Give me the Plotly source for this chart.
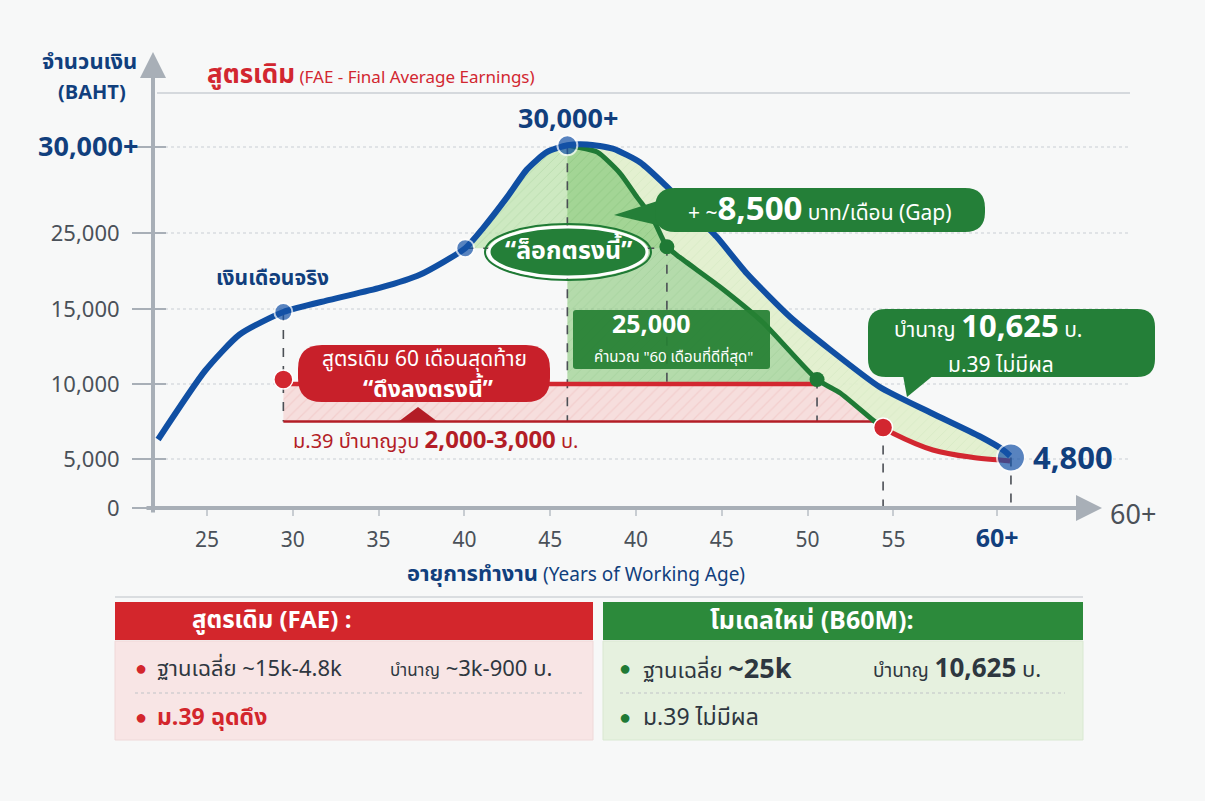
import numpy as np
import plotly.graph_objects as go

# ---------------- data ----------------
x_tick_pos = [0, 1, 2, 3, 4, 5, 6, 7, 8, 9.21]
x_tick_labels = ["25", "30", "35", "40", "45", "40", "45", "50", "55", "60+"]

y_tick_baht = [0, 5000, 10000, 15000, 25000, 30000]
y_tick_labels = ["0", "5,000", "10,000", "15,000", "25,000", "30,000+"]
y_tick_axis = [0, 49, 124, 199, 275, 361]  # the chart's non-linear money scale

# actual salary (blue)
salary_x = [-0.57, -0.02, 0.38, 0.89, 1.43, 2.02, 2.48, 3.01, 3.22, 3.50, 3.73, 3.96, 4.20,
            4.43, 4.73, 5.05, 5.36, 5.66, 5.94, 6.29, 6.79, 7.26, 7.84, 8.43, 9.01, 9.28, 9.36]
salary_y = [6300, 10900, 13300, 14800, 16200, 17800, 19500, 23000, 25300, 27100, 28700, 29700, 30100,
            30150, 29900, 29100, 27700, 26200, 24500, 19700, 14500, 12300, 9800, 8100, 6500, 5600, 5200]
salary_pts_x = [0.89, 3.01, 4.20, 9.37]
salary_pts_y = [14800, 23000, 30100, 5100]

# new model B60M (green)
b60m_x = [4.20, 4.31, 4.55, 4.81, 5.01, 5.20, 5.36, 5.51, 5.98, 6.48, 7.11, 7.38, 7.76, 7.88]
b60m_y = [30100, 30000, 29700, 28500, 27100, 25800, 23200, 21800, 17900, 14100, 10300, 9400, 7600, 7100]
b60m_pts_x = [5.36, 7.11]
b60m_pts_y = [23200, 10300]
lock_level = 23000

# old formula FAE (red)
fae_level = 10000
fae_floor = 7500
fae_x_start, fae_x_top_end, fae_x_floor_end = 0.89, 7.11, 7.80
fae_tail_x = [7.88, 8.00, 8.46, 8.93, 9.24, 9.36]
fae_tail_y = [7100, 6700, 5600, 5100, 4900, 4800]
fae_pts_x = [0.89, 7.88]
fae_pts_y = [10300, 7100]


def yax(v):
    v = np.asarray(v, dtype=float)
    slope = (y_tick_axis[-1] - y_tick_axis[-2]) / (y_tick_baht[-1] - y_tick_baht[-2])
    out = np.interp(v, y_tick_baht, y_tick_axis)
    hi = v > y_tick_baht[-1]
    out[hi] = y_tick_axis[-1] + (v[hi] - y_tick_baht[-1]) * slope
    return out


# ---------------- styling ----------------
FONT = "Noto Sans Thai, Noto Sans, Open Sans, sans-serif"
BLUE = "#104FA3"
NAVY = "#113F7D"
RED = "#D22730"
DRED = "#B31D26"
GREEN = "#1F7A35"
GBOX = "#247F38"
GRAY = "#A8AFB7"
TXT = "#4A5159"
BG = "#F7F8F8"

PL, PT, PW, PH = 153, 55, 947, 453
XR = [(153 - 207) / 85.8, (1100 - 207) / 85.8]


def fx(px):
    return (px - PL) / PW


def fy(py):
    return (PT + PH - py) / PH


def pt(px, py):
    return f"{fx(px):.5f},{fy(py):.5f}"


def rpath(x0, y0, x1, y1, r):
    return (f"M {pt(x0 + r, y0)} L {pt(x1 - r, y0)} Q {pt(x1, y0)} {pt(x1, y0 + r)} "
            f"L {pt(x1, y1 - r)} Q {pt(x1, y1)} {pt(x1 - r, y1)} L {pt(x0 + r, y1)} "
            f"Q {pt(x0, y1)} {pt(x0, y1 - r)} L {pt(x0, y0 + r)} Q {pt(x0, y0)} {pt(x0 + r, y0)} Z")


def polypath(points):
    return "M " + " L ".join(pt(a, b) for a, b in points) + " Z"


def shape_path(path, fill, line_color=None, line_width=0, layer="above"):
    return dict(type="path", path=path, xref="paper", yref="paper", fillcolor=fill,
                line=dict(color=line_color or fill, width=line_width), layer=layer)


def shape_rect(x0, y0, x1, y1, fill, line_color=None, line_width=0, layer="above"):
    return dict(type="rect", x0=fx(x0), x1=fx(x1), y0=fy(y0), y1=fy(y1), xref="paper", yref="paper",
                fillcolor=fill, line=dict(color=line_color or fill, width=line_width), layer=layer)


def T(text, px, py, size, color, bold=False, xanchor="center", yanchor="middle", align="center"):
    if bold:
        text = f"<b>{text}</b>"
    return dict(text=text, x=fx(px), y=fy(py), xref="paper", yref="paper", showarrow=False,
                font=dict(size=size, color=color, family=FONT), xanchor=xanchor, yanchor=yanchor,
                align=align)


fig = go.Figure()

# ---------------- fills ----------------
gx = np.array(b60m_x)
gy = np.array(b60m_y)
sx = np.array(salary_x)
sy = np.array(salary_y)

# pink band (old formula pulled down)
edge = [(x, y) for x, y in zip(gx, gy) if fae_x_top_end < x < fae_x_floor_end]
pink_x = [fae_x_start, fae_x_top_end] + [e[0] for e in edge] + [fae_x_floor_end, fae_x_start]
pink_y = [fae_level, fae_level] + [e[1] for e in edge] + [fae_floor, fae_floor]
fig.add_trace(go.Scatter(x=pink_x, y=yax(pink_y), fill="toself", mode="none",
                         fillcolor="rgba(246,200,198,0.55)",
                         fillpattern=dict(shape="/", fgcolor="rgba(220,130,130,0.35)", size=8, solidity=0.15),
                         hoverinfo="skip"))

# left-of-peak lock area
m = (sx >= 3.01) & (sx <= 4.20)
mg = (gx <= 5.36)
A_x = list(sx[m]) + list(gx[mg][1:]) + [5.36, 3.01]
A_y = list(sy[m]) + list(gy[mg][1:]) + [lock_level, lock_level]
fig.add_trace(go.Scatter(x=A_x, y=yax(A_y), fill="toself", mode="none",
                         fillcolor="rgba(190,228,175,0.75)",
                         fillpattern=dict(shape="/", fgcolor="rgba(110,175,100,0.45)", size=7, solidity=0.12),
                         hoverinfo="skip"))
# best-60-months area
mb = (gx <= 7.11)
B_x = list(gx[mb]) + [7.11, 4.20]
B_y = list(gy[mb]) + [fae_level, fae_level]
fig.add_trace(go.Scatter(x=B_x, y=yax(B_y), fill="toself", mode="none",
                         fillcolor="rgba(135,200,120,0.6)",
                         fillpattern=dict(shape="/", fgcolor="rgba(90,160,85,0.35)", size=7, solidity=0.12),
                         hoverinfo="skip"))
# gap between salary and B60M
mc = (sx >= 4.20)
C_x = list(sx[mc]) + list(fae_tail_x[::-1]) + list(gx[::-1])
C_y = list(sy[mc]) + list(fae_tail_y[::-1]) + list(gy[::-1])
fig.add_trace(go.Scatter(x=C_x, y=yax(C_y), fill="toself", mode="none",
                         fillcolor="rgba(226,240,204,0.9)",
                         fillpattern=dict(shape="/", fgcolor="rgba(160,205,140,0.45)", size=7, solidity=0.1),
                         hoverinfo="skip"))

# ---------------- dashed guides ----------------
DASH = dict(color="#4B4F55", width=1.6, dash="dash")
guides = [
    ([0.89, 0.89], [14800, fae_floor]),
    ([4.20, 4.20], [30100, fae_floor]),
    ([5.36, 5.36], [23200, fae_level]),
    ([7.11, 7.11], [10300, fae_floor]),
    ([7.88, 7.88], [7100, 0]),
    ([9.37, 9.37], [5100, 0]),
    ([3.01, 5.36], [lock_level, lock_level]),
]
for gxs, gys in guides:
    fig.add_trace(go.Scatter(x=gxs, y=yax(gys), mode="lines", line=DASH, hoverinfo="skip"))

# ---------------- red (FAE) lines ----------------
fig.add_trace(go.Scatter(x=[fae_x_start, fae_x_floor_end], y=yax([fae_floor, fae_floor]), mode="lines",
                         line=dict(color=DRED, width=2.5), hoverinfo="skip"))
fig.add_trace(go.Scatter(x=[fae_x_start, fae_x_top_end], y=yax([fae_level, fae_level]), mode="lines",
                         line=dict(color=RED, width=4.5), hoverinfo="skip"))
fig.add_trace(go.Scatter(x=fae_tail_x, y=yax(fae_tail_y), mode="lines",
                         line=dict(color=RED, width=5, shape="spline"), hoverinfo="skip"))

# ---------------- green (B60M) line ----------------
fig.add_trace(go.Scatter(x=b60m_x, y=yax(b60m_y), mode="lines",
                         line=dict(color=GREEN, width=5, shape="spline", smoothing=0.6), hoverinfo="skip"))

# ---------------- blue (salary) line ----------------
fig.add_trace(go.Scatter(x=salary_x, y=yax(salary_y), mode="lines",
                         line=dict(color=BLUE, width=6, shape="spline", smoothing=0.6), hoverinfo="skip"))

# ---------------- markers ----------------
fig.add_trace(go.Scatter(x=fae_pts_x, y=yax(fae_pts_y), mode="markers",
                         marker=dict(size=19, color=RED, line=dict(color="white", width=1.5)), hoverinfo="skip"))
fig.add_trace(go.Scatter(x=b60m_pts_x, y=yax(b60m_pts_y), mode="markers",
                         marker=dict(size=15, color=GREEN), hoverinfo="skip"))
fig.add_trace(go.Scatter(x=salary_pts_x, y=yax(salary_pts_y), mode="markers",
                         marker=dict(size=[18, 18, 20, 28], color="#1553A8", line=dict(color="white", width=2)),
                         hoverinfo="skip"))

# ---------------- shapes ----------------
shapes = []
shapes.append(dict(type="line", xref="paper", yref="paper", x0=fx(157), x1=fx(1130), y0=fy(93), y1=fy(93),
                   line=dict(color="#D5D9DD", width=2), layer="below"))
for v in y_tick_axis[1:]:
    shapes.append(dict(type="line", xref="paper", yref="y", x0=0, x1=fx(1130), y0=v, y1=v,
                       line=dict(color="#C9CED3", width=1.2, dash="dot"), layer="below"))
for v in y_tick_axis:
    shapes.append(dict(type="line", xref="paper", yref="y", x0=0, x1=fx(166), y0=v, y1=v,
                       line=dict(color=GRAY, width=2), layer="below"))

# gap callout
shapes.append(shape_path(polypath([(670, 197), (614, 215), (670, 228)]), GBOX))
shapes.append(shape_path(rpath(655, 188, 985, 232, 20), GBOX))
# 25,000 box
shapes.append(shape_path(rpath(573, 310, 770, 369, 3), "rgba(38,128,52,0.93)"))
# pension callout
shapes.append(shape_path(polypath([(902, 370), (907, 397), (940, 370)]), GBOX))
shapes.append(shape_path(rpath(868, 309, 1155, 377, 18), GBOX))
# red callout
shapes.append(shape_path(polypath([(398, 422), (418, 407), (438, 422)]), DRED))
shapes.append(shape_path(rpath(298, 345, 550, 402, 24), "#C8202A"))
# lock ellipse
shapes.append(dict(type="circle", xref="paper", yref="paper", x0=fx(485), x1=fx(651), y0=fy(224), y1=fy(280),
                   fillcolor="rgba(0,0,0,0)", line=dict(color=GREEN, width=2)))
shapes.append(dict(type="circle", xref="paper", yref="paper", x0=fx(489), x1=fx(647), y0=fy(227), y1=fy(277),
                   fillcolor=GBOX, line=dict(color="white", width=3)))

# bottom panels
shapes.append(dict(type="line", xref="paper", yref="paper", x0=fx(115), x1=fx(1083), y0=fy(597), y1=fy(597),
                   line=dict(color="#DADDE0", width=2)))
shapes.append(shape_rect(115, 602, 593, 640, "#D3262C"))
shapes.append(shape_rect(115, 641, 593, 740, "#F8E5E5", "#EFD8D8", 1))
shapes.append(shape_rect(603, 602, 1083, 640, "#2C8A3B"))
shapes.append(shape_rect(603, 641, 1083, 740, "#E6F1DF", "#D9E8D1", 1))
for x0, x1 in [(135, 583), (620, 1065)]:
    shapes.append(dict(type="line", xref="paper", yref="paper", x0=fx(x0), x1=fx(x1), y0=fy(693), y1=fy(693),
                       line=dict(color="#BFC3C7", width=1.2, dash="dot")))

# ---------------- annotations ----------------
ann = []
ann.append(dict(x=fx(1102), y=fy(508), xref="paper", yref="paper", ax=-957, ay=0, showarrow=True,
                arrowhead=2, arrowsize=1.3, arrowwidth=4, arrowcolor=GRAY, text=""))
ann.append(dict(x=fx(153), y=fy(52), xref="paper", yref="paper", ax=0, ay=462, showarrow=True,
                arrowhead=2, arrowsize=1.3, arrowwidth=4, arrowcolor=GRAY, text=""))
ann.append(T("60+", 1133, 515, 27, "#4B5158"))

# titles
ann.append(T("จำนวนเงิน", 89, 63, 22, NAVY, bold=True))
ann.append(T("(BAHT)", 92, 93, 20, NAVY, bold=True))
ann.append(T("<b><span style='font-size:26px'>สูตรเดิม</span></b> (FAE - Final Average Earnings)",
             205, 75, 17, RED, xanchor="left"))
ann.append(T("<b>อายุการทำงาน</b><span style='font-size:19px'> (Years of Working Age)</span>",
             576, 574, 22, NAVY))
# top tick label (sits closer to the axis in the reference)
ann.append(T(y_tick_labels[-1], 140, 147, 27, NAVY, bold=True, xanchor="right"))

# chart labels
ann.append(T("30,000+", 568, 120, 27, NAVY, bold=True))
ann.append(T("เงินเดือนจริง", 272, 278, 21, NAVY, bold=True))
ann.append(T("“ล็อกตรงนี้”", 568, 251, 25, "white", bold=True))
ann.append(T("+ ~<b><span style='font-size:33px'>8,500</span></b> บาท/เดือน (Gap)", 820, 210, 21, "white"))
ann.append(T("<b>25,000</b>", 651, 325, 25, "white"))
ann.append(T("คำนวณ \"60 เดือนที่ดีที่สุด\"", 673, 357, 15, "white"))
ann.append(T("บำนาญ <b><span style='font-size:31px'>10,625</span></b> บ.", 988, 327, 21, "white"))
ann.append(T("ม.39 ไม่มีผล", 1001, 365, 21, "white"))
ann.append(T("สูตรเดิม 60 เดือนสุดท้าย", 424, 359, 21, "white"))
ann.append(T("<b>“ดึงลงตรงนี้”</b>", 428, 390, 23, "white"))
ann.append(T("ม.39 บำนาญวูบ <b><span style='font-size:24px'>2,000-3,000</span></b> บ.", 435, 441, 20, DRED))
ann.append(T("4,800", 1073, 459, 31, NAVY, bold=True))

# bottom panels text
ann.append(T("สูตรเดิม (FAE) :", 190, 621, 24, "white", bold=True, xanchor="left"))
ann.append(T("●", 133, 669, 20, "#D3262C", xanchor="left"))
ann.append(T("ฐานเฉลี่ย ~15k-4.8k", 155, 669, 22, "#2E3740", xanchor="left"))
ann.append(T("<span style='font-size:17px'>บำนาญ</span> ~3k-900 บ.", 388, 669, 22, "#2E3740", xanchor="left"))
ann.append(T("●", 133, 718, 20, "#D3262C", xanchor="left"))
ann.append(T("<b>ม.39 ฉุดดึง</b>", 155, 718, 23, "#D3262C", xanchor="left"))
ann.append(T("โมเดลใหม่ (B60M):", 708, 621, 25, "white", bold=True, xanchor="left"))
ann.append(T("●", 617, 669, 20, "#1F7A35", xanchor="left"))
ann.append(T("ฐานเฉลี่ย <b><span style='font-size:27px'>~25k</span></b>", 641, 669, 22, "#2E3740", xanchor="left"))
ann.append(T("<span style='font-size:19px'>บำนาญ</span> <b><span style='font-size:26px'>10,625</span></b> บ.",
             871, 669, 22, "#2E3740", xanchor="left"))
ann.append(T("●", 617, 718, 20, "#1F7A35", xanchor="left"))
ann.append(T("ม.39 ไม่มีผล", 641, 718, 23, "#2E3740", xanchor="left"))

ytext = ["" if t.endswith("+") else t for t in y_tick_labels]
xtext = [f"<b><span style='color:{NAVY};font-size:25px'>{t}</span></b>" if t.endswith("+") else t
         for t in x_tick_labels]

fig.update_layout(
    width=1205, height=801,
    margin=dict(l=PL, r=1205 - PL - PW, t=PT, b=801 - PT - PH, pad=0),
    paper_bgcolor=BG, plot_bgcolor=BG,
    showlegend=False,
    font=dict(family=FONT, color=TXT),
    xaxis=dict(range=XR, tickvals=x_tick_pos, ticktext=xtext, showgrid=False, zeroline=False, showline=False,
               ticks="outside", ticklen=7, tickwidth=1.5, tickcolor="#C8CDD2",
               tickfont=dict(size=21, color=TXT, family=FONT), ticklabelstandoff=6),
    yaxis=dict(range=[0, PH], tickvals=y_tick_axis, ticktext=ytext, showgrid=False, zeroline=False,
               showline=False, ticks="outside", ticklen=20, tickwidth=2, tickcolor=GRAY,
               tickfont=dict(size=22, color=TXT, family=FONT), ticklabelstandoff=8),
    shapes=shapes,
    annotations=ann,
)

fig.write_html("out.html", config={"displayModeBar": False},
               post_script="document.body.style.margin='0px';document.body.style.background='#F7F8F8';")
